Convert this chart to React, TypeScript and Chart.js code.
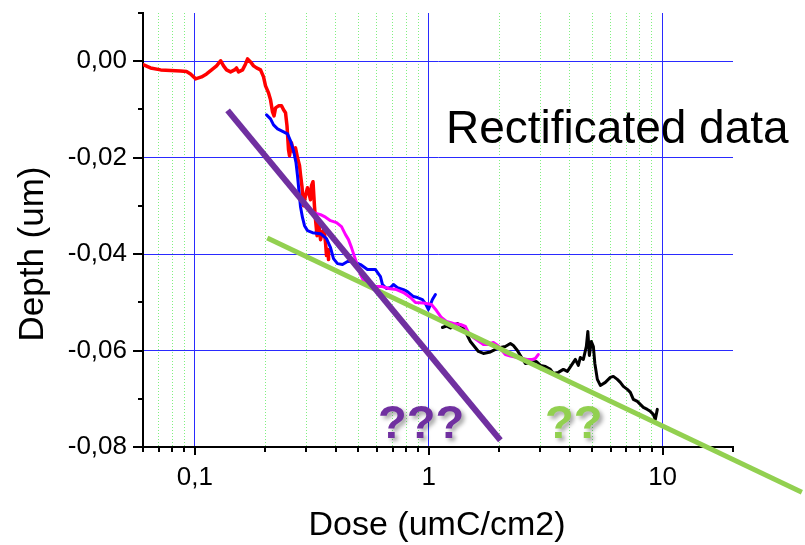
import { useEffect, useRef } from 'react';
import { Chart, registerables } from 'chart.js';

Chart.register(...registerables);

const FONT = '"Liberation Sans", Arial, Helvetica, sans-serif';

// Axis ranges and tick positions
const X_MIN = 0.06;
const X_MAX = 20;
const Y_MIN = -0.08;
const Y_MAX = 0.01;
const X_TICKS = [0.06, 0.07, 0.08, 0.09, 0.1, 0.2, 0.3, 0.4, 0.5, 0.6, 0.7, 0.8, 0.9, 1, 2, 3, 4, 5, 6, 7, 8, 9, 10, 20];
const X_LABELS = [0.1, 1, 10];
const Y_TICKS = [-0.08, -0.07, -0.06, -0.05, -0.04, -0.03, -0.02, -0.01, 0, 0.01];

// Measured profiles: dose (umC/cm2) vs depth (um)
const RED_DOSE = [0.0604, 0.0646, 0.0714, 0.0787, 0.0869, 0.0921, 0.0958, 0.1007, 0.1068, 0.1122, 0.1179, 0.1238, 0.1288, 0.1326, 0.1366, 0.1421, 0.1478, 0.1507, 0.1537, 0.1599, 0.1647, 0.168, 0.173, 0.1782, 0.1835, 0.1909, 0.1966, 0.2005, 0.2065, 0.2106, 0.2148, 0.218, 0.2213, 0.2279, 0.2347, 0.2394, 0.2441, 0.2477, 0.2514, 0.2539, 0.2589, 0.2641, 0.2693, 0.2747, 0.2802, 0.2829, 0.2871, 0.2914, 0.2972, 0.3031, 0.3076, 0.3122, 0.3153, 0.32, 0.3247, 0.328, 0.3329, 0.3378, 0.3446, 0.3514, 0.3566, 0.3619, 0.3655, 0.3709, 0.3728];
const RED_DEPTH = [-0.00077, -0.00139, -0.0018, -0.0019, -0.00201, -0.00211, -0.00263, -0.00366, -0.00325, -0.00263, -0.0018, -0.00097, 0.0001, -0.00097, -0.0018, -0.00222, -0.0018, -0.00139, -0.00222, -0.0018, -0.00056, 0.00048, -0.00014, -0.00097, -0.00139, -0.0018, -0.00325, -0.00511, -0.00656, -0.00801, -0.0105, -0.01133, -0.00967, -0.00925, -0.00925, -0.01008, -0.0107, -0.0134, -0.01836, -0.0196, -0.01692, -0.01878, -0.01795, -0.02002, -0.02168, -0.02354, -0.02602, -0.02996, -0.02789, -0.02623, -0.02747, -0.02872, -0.02582, -0.02499, -0.03017, -0.03286, -0.03617, -0.03327, -0.037, -0.03534, -0.03493, -0.03762, -0.04031, -0.03907, -0.04114];

const BLUE_DOSE = [0.2025, 0.2106, 0.2169, 0.2257, 0.2371, 0.249, 0.2564, 0.2641, 0.2707, 0.2747, 0.2788, 0.2829, 0.2886, 0.2943, 0.3031, 0.3184, 0.3446, 0.3655, 0.3802, 0.3915, 0.4072, 0.4278, 0.4494, 0.4767, 0.5107, 0.547, 0.5918, 0.6217, 0.634, 0.6595, 0.6861, 0.7066, 0.735, 0.7796, 0.811, 0.8603, 0.8948, 0.94, 0.9681, 0.997, 1.037, 1.068];
const BLUE_DEPTH = [-0.01112, -0.01195, -0.01319, -0.01402, -0.01453, -0.01505, -0.0165, -0.01857, -0.02106, -0.02375, -0.02706, -0.03017, -0.03244, -0.0341, -0.03513, -0.03555, -0.03576, -0.03679, -0.03865, -0.04093, -0.04197, -0.04217, -0.04155, -0.04155, -0.04217, -0.04321, -0.04321, -0.04466, -0.04631, -0.04714, -0.04694, -0.04631, -0.04694, -0.04735, -0.04776, -0.0488, -0.04901, -0.04942, -0.05025, -0.05149, -0.04942, -0.04838];

const MAGENTA_DOSE = [0.3216, 0.3446, 0.3619, 0.3802, 0.4033, 0.4236, 0.4406, 0.4538, 0.4675, 0.4814, 0.4958, 0.5107, 0.526, 0.547, 0.5918, 0.634, 0.6727, 0.7278, 0.7796, 0.8353, 0.8774, 0.9493, 1.027, 1.079, 1.133, 1.19, 1.275, 1.366, 1.435, 1.478, 1.552, 1.631, 1.713, 1.799, 1.89, 1.986, 2.065, 2.126, 2.234, 2.394, 2.514, 2.641, 2.774, 2.858, 2.943];
const MAGENTA_DEPTH = [-0.03141, -0.03182, -0.03234, -0.03306, -0.03348, -0.03431, -0.03596, -0.037, -0.03865, -0.04052, -0.04238, -0.04424, -0.04549, -0.04631, -0.04673, -0.04673, -0.04714, -0.04735, -0.04797, -0.04901, -0.05004, -0.05015, -0.05046, -0.0517, -0.05315, -0.05398, -0.05439, -0.0546, -0.05501, -0.05625, -0.05729, -0.05801, -0.05874, -0.05874, -0.05832, -0.05905, -0.06008, -0.06081, -0.06112, -0.06143, -0.06164, -0.06184, -0.06184, -0.06164, -0.06081];

const BLACK_DOSE = [1.144, 1.19, 1.238, 1.275, 1.327, 1.393, 1.449, 1.507, 1.568, 1.631, 1.713, 1.835, 1.928, 2.025, 2.126, 2.234, 2.301, 2.394, 2.465, 2.589, 2.72, 2.886, 3.002, 3.153, 3.312, 3.411, 3.583, 3.764, 3.915, 4.072, 4.236, 4.362, 4.449, 4.583, 4.72, 4.79, 4.862, 4.958, 5.057, 5.132, 5.26, 5.418, 5.69, 5.977, 6.156, 6.403, 6.595, 6.794, 7.066, 7.278, 7.497, 7.796, 8.03, 8.272, 8.603, 8.861, 9.127, 9.307, 9.493];
const BLACK_DEPTH = [-0.05522, -0.05491, -0.05532, -0.0548, -0.05439, -0.05501, -0.05646, -0.05812, -0.05915, -0.06019, -0.0606, -0.06029, -0.05977, -0.05936, -0.05915, -0.05853, -0.05894, -0.05998, -0.06101, -0.06267, -0.06246, -0.06226, -0.06308, -0.06329, -0.06391, -0.06474, -0.06453, -0.06391, -0.06433, -0.06308, -0.06184, -0.06308, -0.06143, -0.06184, -0.05915, -0.05604, -0.06101, -0.05812, -0.05915, -0.06267, -0.06598, -0.06723, -0.0666, -0.06557, -0.06536, -0.06598, -0.0666, -0.06743, -0.06805, -0.06867, -0.07012, -0.07054, -0.07116, -0.07178, -0.0722, -0.07261, -0.07323, -0.07427, -0.0722];

// Hand-drawn trend lines (end points)
const PURPLE_FIT_DOSE = [0.138, 2.025];
const PURPLE_FIT_DEPTH = [-0.0102, -0.0786];
const GREEN_FIT_DOSE = [0.204, 39.4];
const GREEN_FIT_DEPTH = [-0.03665, -0.0894];

const PURPLE = '#7030A0';
const GREEN = '#92D050';

const zip = (xs: number[], ys: number[]) =>
  xs.slice(0, Math.min(xs.length, ys.length)).map((x, i) => ({ x, y: ys[i] }));

const near = (a: number, b: number) => Math.abs(a - b) < 1e-9 * Math.max(1, Math.abs(b)) + 1e-12;
const isLabeledX = (v: number) => X_LABELS.some((l) => Math.abs(v - l) / l < 1e-6);
const hundredths = (v: number) => Math.round(v * 100);
const isMajorY = (v: number) => hundredths(v) % 2 === 0;

const axisDecor = {
  id: 'axisDecor',
  afterDraw(chart: any) {
    const { ctx, chartArea, scales } = chart;
    const x = scales.x;
    const y = scales.y;
    ctx.save();
    // tick marks
    ctx.strokeStyle = '#000';
    ctx.lineWidth = 2;
    ctx.lineCap = 'butt';
    Y_TICKS.forEach((v) => {
      const py = Math.round(y.getPixelForValue(v));
      const len = isMajorY(v) ? 10 : 5;
      ctx.beginPath();
      ctx.moveTo(chartArea.left - len, py);
      ctx.lineTo(chartArea.left, py);
      ctx.stroke();
    });
    X_TICKS.forEach((v) => {
      const px = Math.round(x.getPixelForValue(v));
      const len = isLabeledX(v) ? 8 : 5;
      ctx.beginPath();
      ctx.moveTo(px, chartArea.bottom);
      ctx.lineTo(px, chartArea.bottom + len);
      ctx.stroke();
    });

    // axis titles
    ctx.fillStyle = '#000';
    ctx.textBaseline = 'alphabetic';
    ctx.textAlign = 'center';
    ctx.font = `34px ${FONT}`;
    ctx.fillText('Dose (umC/cm2)', 437, 535);
    ctx.save();
    ctx.translate(43, 254);
    ctx.rotate(-Math.PI / 2);
    ctx.font = `35px ${FONT}`;
    ctx.fillText('Depth (um)', 0, 0);
    ctx.restore();

    // annotation
    ctx.textAlign = 'left';
    ctx.font = `46px ${FONT}`;
    ctx.fillText('Rectificated data', 446, 143);

    ctx.font = `bold 47px ${FONT}`;
    ctx.shadowColor = 'rgba(0,0,0,0.35)';
    ctx.shadowBlur = 4;
    ctx.shadowOffsetX = 3;
    ctx.shadowOffsetY = 3;
    ctx.fillStyle = PURPLE;
    ctx.fillText('???', 378, 438);
    ctx.fillStyle = GREEN;
    ctx.fillText('??', 545, 438);
    ctx.restore();
  },
};

export default function App() {
  const ref = useRef<HTMLCanvasElement>(null);

  useEffect(() => {
    const canvas = ref.current;
    if (!canvas) return;
    const line = (label: string, data: any[], color: string, width: number, extra: any = {}) => ({
      label,
      data,
      borderColor: color,
      backgroundColor: color,
      borderWidth: width,
      pointRadius: 0,
      pointHoverRadius: 0,
      showLine: true,
      tension: 0,
      borderJoinStyle: 'round',
      borderCapStyle: 'round',
      fill: false,
      ...extra,
    });

    const chart = new Chart(canvas, {
      type: 'scatter',
      data: {
        datasets: [
          line('fit 1', zip(PURPLE_FIT_DOSE, PURPLE_FIT_DEPTH), PURPLE, 6, { clip: false, borderCapStyle: 'butt' }),
          line('fit 2', zip(GREEN_FIT_DOSE, GREEN_FIT_DEPTH), GREEN, 5, { clip: false, borderCapStyle: 'butt' }),
          line('magenta', zip(MAGENTA_DOSE, MAGENTA_DEPTH), '#ff00ff', 3),
          line('blue', zip(BLUE_DOSE, BLUE_DEPTH), '#0000ff', 3),
          line('black', zip(BLACK_DOSE, BLACK_DEPTH), '#000000', 3),
          line('red', zip(RED_DOSE, RED_DEPTH), '#ff0000', 3.5),
        ] as any,
      },
      options: {
        responsive: false,
        animation: false,
        devicePixelRatio: 1,
        events: [],
        layout: { padding: { left: 0, right: 72, top: 13, bottom: 0 } },
        plugins: {
          legend: { display: false },
          tooltip: { enabled: false },
          title: { display: false },
        },
        scales: {
          x: {
            type: 'logarithmic',
            min: X_MIN,
            max: X_MAX,
            bounds: 'data',
            afterBuildTicks: (scale: any) => {
              scale.ticks = X_TICKS.map((v) => ({ value: v }));
            },
            afterFit: (scale: any) => {
              scale.height = 98;
              scale.paddingLeft = 0;
              scale.paddingRight = 0;
            },
            ticks: {
              autoSkip: false,
              maxRotation: 0,
              minRotation: 0,
              padding: 15,
              color: '#000',
              font: { family: FONT, size: 26 },
              major: { enabled: false },
              callback: (v: any) => {
                const n = Number(v);
                if (!isLabeledX(n)) return '';
                return String(n).replace('.', ',');
              },
            },
            grid: {
              drawTicks: false,
              lineWidth: 1,
              color: (c: any) => {
                const v = c.tick ? c.tick.value : NaN;
                if (isNaN(v) || near(v, X_MIN) || near(v, X_MAX)) return 'rgba(0,0,0,0)';
                return isLabeledX(v) ? '#2a2aff' : '#80f080';
              },
            },
            border: {
              display: true,
              color: '#000',
              width: 2,
              dash: (c: any) => (c.tick && !isLabeledX(c.tick.value) ? [1, 2] : []),
            },
          },
          y: {
            type: 'linear',
            min: Y_MIN,
            max: Y_MAX,
            bounds: 'data',
            afterBuildTicks: (scale: any) => {
              scale.ticks = Y_TICKS.map((v) => ({ value: v }));
            },
            afterFit: (scale: any) => {
              scale.width = 143;
              scale.paddingTop = 0;
              scale.paddingBottom = 0;
            },
            ticks: {
              autoSkip: false,
              padding: 16,
              color: '#000',
              font: { family: FONT, size: 26 },
              callback: (v: any) => {
                const n = hundredths(Number(v));
                if (n % 2 !== 0 || n > 0) return '';
                return (n / 100).toFixed(2).replace('.', ',');
              },
            },
            grid: {
              drawTicks: false,
              lineWidth: 1,
              color: (c: any) => {
                if (!c.tick) return 'rgba(0,0,0,0)';
                const n = hundredths(c.tick.value);
                if (n % 2 !== 0 || n <= -8 || n > 0) return 'rgba(0,0,0,0)';
                return '#2a2aff';
              },
            },
            border: { display: true, color: '#000', width: 2 },
          },
        },
      } as any,
      plugins: [axisDecor],
    });

    return () => chart.destroy();
  }, []);

  return (
    <div style={{ position: 'absolute', left: 0, top: 0, width: 805, height: 545, background: '#fff' }}>
      <canvas ref={ref} width={805} height={545} style={{ display: 'block', width: 805, height: 545 }} />
    </div>
  );
}
